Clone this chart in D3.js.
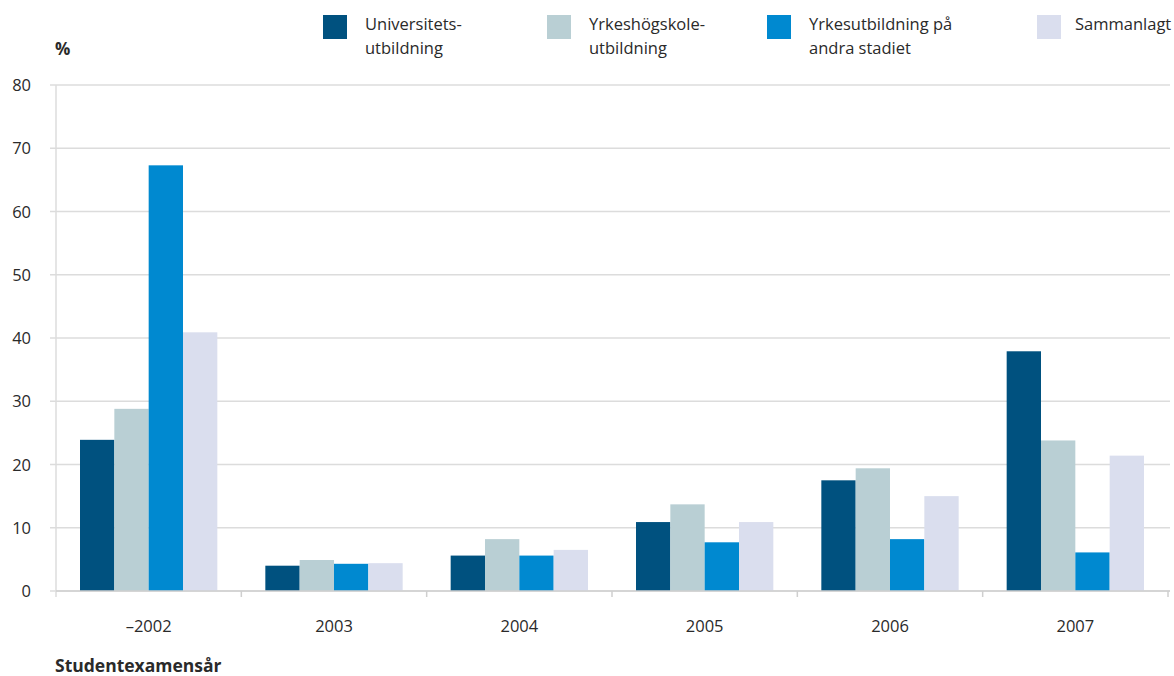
<!DOCTYPE html>
<html lang="sv">
<head>
<meta charset="UTF-8">
<script src="https://d3js.org/d3.v7.min.js"></script>
<style>
  body { margin: 0; background: #fff; }
  text { font-family: "Open Sans", sans-serif; fill: #2a2a2a; }
</style>
</head>
<body>
<div id="chart"></div>
<script>
const w = 1174, h = 676;
const margin = { top: 85, right: 6, bottom: 85, left: 56 };

// data
const years = ["–2002", "2003", "2004", "2005", "2006", "2007"];
const series = ["Universitetsutbildning", "Yrkeshögskoleutbildning", "Yrkesutbildning på andra stadiet", "Sammanlagt"];
const legendLines = [["Universitets-", "utbildning"], ["Yrkeshögskole-", "utbildning"], ["Yrkesutbildning på", "andra stadiet"], ["Sammanlagt"]];
const univ = [23.9, 4.0, 5.6, 10.9, 17.5, 37.9];
const yh = [28.8, 4.9, 8.2, 13.7, 19.4, 23.8];
const yrke = [67.3, 4.3, 5.6, 7.7, 8.2, 6.1];
const total = [40.9, 4.4, 6.5, 10.9, 15.0, 21.4];
const yTicks = [0, 10, 20, 30, 40, 50, 60, 70, 80];
const colors = ["#00517f", "#b9cfd4", "#0089d0", "#dadeee"];

const values = [univ, yh, yrke, total];

const svg = d3.select("#chart").append("svg")
  .attr("width", w)
  .attr("height", h);

const x0 = d3.scaleBand()
  .domain(years)
  .range([margin.left, 1168]);

const x1 = d3.scaleBand()
  .domain(d3.range(series.length))
  .range([24, x0.bandwidth() - 24]);

const y = d3.scaleLinear()
  .domain([0, 80])
  .range([h - margin.bottom, margin.top]);

// gridlines
svg.append("g")
  .selectAll("line")
  .data(yTicks)
  .enter()
  .append("line")
  .attr("x1", 50)
  .attr("x2", 1170)
  .attr("y1", d => y(d))
  .attr("y2", d => y(d))
  .attr("stroke", "#dcdcdc")
  .attr("stroke-width", 1.5);

// y axis line
svg.append("line")
  .attr("x1", margin.left).attr("x2", margin.left)
  .attr("y1", y(80)).attr("y2", y(0) + 6)
  .attr("stroke", "#dcdcdc")
  .attr("stroke-width", 1.5);

// y tick labels
svg.append("g")
  .selectAll("text")
  .data(yTicks)
  .enter()
  .append("text")
  .attr("x", 31)
  .attr("y", d => y(d) + 6)
  .attr("text-anchor", "end")
  .style("font-size", "16.5px")
  .text(d => d);

svg.append("text")
  .attr("x", 55)
  .attr("y", 55)
  .style("font-size", "17px")
  .style("font-weight", "bold")
  .text("%");

// bars
const groups = svg.append("g")
  .selectAll("g")
  .data(years)
  .enter()
  .append("g")
  .attr("transform", d => "translate(" + x0(d) + ",0)");

groups.selectAll("rect")
  .data((d, i) => values.map((s, k) => ({ k: k, v: s[i] })))
  .enter()
  .append("rect")
  .attr("x", d => x1(d.k))
  .attr("width", x1.bandwidth())
  .attr("y", d => y(d.v))
  .attr("height", d => y(0) - y(d.v))
  .attr("fill", d => colors[d.k]);

// x axis
svg.append("line")
  .attr("x1", margin.left).attr("x2", 1170)
  .attr("y1", y(0)).attr("y2", y(0))
  .attr("stroke", "#cfcfcf")
  .attr("stroke-width", 1.5);

svg.append("g")
  .selectAll("line")
  .data(years.slice(1).concat(["end"]))
  .enter()
  .append("line")
  .attr("x1", (d, i) => x0.range()[0] + x0.step() * (i + 1))
  .attr("x2", (d, i) => x0.range()[0] + x0.step() * (i + 1))
  .attr("y1", y(0))
  .attr("y2", y(0) + 6)
  .attr("stroke", "#cfcfcf")
  .attr("stroke-width", 1.5);

svg.append("g")
  .selectAll("text")
  .data(years)
  .enter()
  .append("text")
  .attr("x", d => x0(d) + x0.bandwidth() / 2)
  .attr("y", 632)
  .attr("text-anchor", "middle")
  .style("font-size", "16.5px")
  .text(d => d);

svg.append("text")
  .attr("x", 55)
  .attr("y", 672)
  .style("font-size", "17.5px")
  .style("font-weight", "bold")
  .text("Studentexamensår");

// legend
const legX = [323, 547, 767, 1037];
const legend = svg.append("g")
  .selectAll("g")
  .data(series)
  .enter()
  .append("g")
  .attr("transform", (d, i) => "translate(" + legX[i] + ",15)");

legend.append("rect")
  .attr("width", 24)
  .attr("height", 24)
  .attr("fill", (d, i) => colors[i]);

legend.append("text")
  .attr("x", (d, i) => i == 3 ? 38 : 42)
  .attr("y", 15)
  .style("font-size", "16.5px")
  .selectAll("tspan")
  .data((d, i) => legendLines[i])
  .enter()
  .append("tspan")
  .attr("x", function () { return d3.select(this.parentNode).attr("x"); })
  .attr("dy", (d, j) => j == 0 ? 0 : 24)
  .text(d => d);
</script>
</body>
</html>
